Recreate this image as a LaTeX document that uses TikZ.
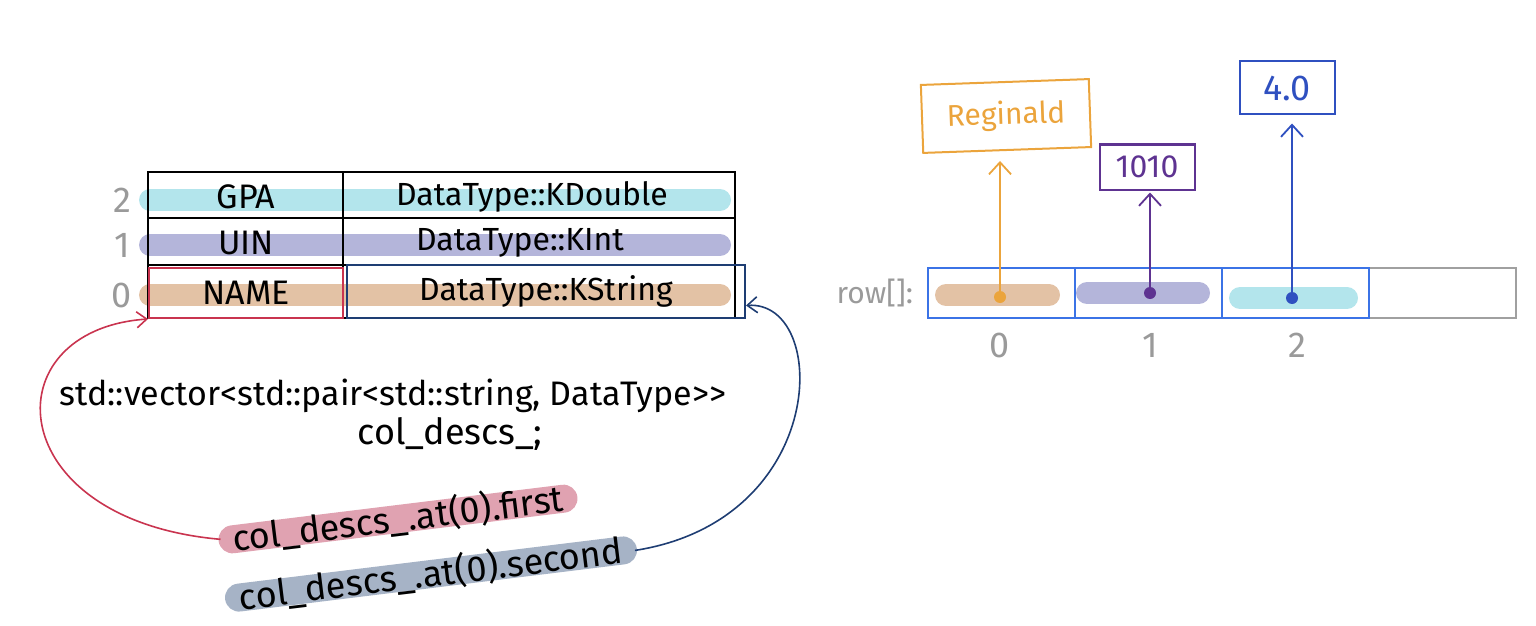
\documentclass[tikz,border=0pt]{standalone}
\usepackage{fontspec}
\setmainfont{Fira Sans}
\usetikzlibrary{arrows.meta,positioning,backgrounds}
\definecolor{hlcyan}{HTML}{B3E5EC}
\definecolor{hllav}{HTML}{B4B5DA}
\definecolor{hltan}{HTML}{E3C2A5}
\definecolor{hlpink}{HTML}{E0A2B1}
\definecolor{hlslate}{HTML}{A6B3C6}
\definecolor{namered}{HTML}{C9344F}
\definecolor{typeblue}{HTML}{1E3D73}
\definecolor{cellblue}{HTML}{3B73E6}
\definecolor{cellgray}{HTML}{A0A0A0}
\definecolor{idxgray}{HTML}{9A9A9A}
\definecolor{valorange}{HTML}{EBA43C}
\definecolor{valpurple}{HTML}{5E3391}
\definecolor{valblue}{HTML}{2F50C0}

\begin{document}
\begin{tikzpicture}[x=0.5pt,y=-0.5pt,
  tbl/.style={draw=black,line width=1pt},
  hl/.style={line width=11pt,line cap=round},
  bar/.style={line width=14pt,line cap=round},
  txt/.style={font=\fontsize{16}{18}\selectfont,inner sep=1pt},
  idx/.style={text=idxgray,font=\fontsize{18}{20}\selectfont},
  tag/.style={rotate=7,inner sep=0,font=\fontsize{18}{20}\selectfont},
  rcell/.style={draw=cellblue,line width=0.8pt,minimum width=73.5pt,minimum height=25pt,inner sep=0,outer sep=0},
  valbox/.style={draw,line width=1pt,inner sep=0},
  dot/.style={circle,inner sep=0,minimum size=6pt},
  ptr/.style={-{Straight Barb[length=6pt,width=11pt]},line width=0.9pt,shorten >=5pt},
  link/.style={-{Straight Barb[length=5pt,width=8pt]},line width=0.8pt}]

\useasboundingbox (0,0) rectangle (1536,626);

% rows of the description table
\draw[hl,hlcyan] (150,200) -- (720,200);
\draw[hl,hllav] (150,245) -- (720,245);
\draw[hl,hltan] (150,295) -- (720,295);
\draw[tbl] (148,172) rectangle (735,318);
\draw[tbl] (148,218) -- (735,218) (148,265) -- (735,265) (343,172) -- (343,318);

\node[idx] (i2) at (122,200) {2};
\node[idx] (i1) at (122,245) {1};
\node[idx] (i0) at (122,295) {0};

\node[txt,font=\fontsize{17}{19}\selectfont] (gpa) at (246,197) {GPA};
\node[txt] (gpatype) at (532,197) {DataType::KDouble};
\node[txt,font=\fontsize{17}{19}\selectfont] (uin) at (246,243) {UIN};
\node[txt] (uintype) at (520,243) {DataType::KInt};
\node[txt,font=\fontsize{17}{19}\selectfont,draw=namered,line width=1pt,minimum width=97pt,minimum height=25pt] (namecell) at (246,293) {NAME};
\node[txt,draw=typeblue,line width=1pt,minimum width=199pt,minimum height=26.5pt] (kstr) at (546,291.5) {DataType::KString};

% the member and its two accessors
\node[inner sep=0,font=\fontsize{17}{19}\selectfont] (decl) at (393,396) {std::vector<std::pair<std::string, DataType>{}>};
\node[inner sep=0,font=\fontsize{18}{20}\selectfont] (member) at (450,434) {col\_descs\_;};
\node[tag] (first) at (398,519) {col\_descs\_.at(0).first};
\node[tag] (second) at (431,574) {col\_descs\_.at(0).second};
\begin{scope}[on background layer]
  \draw[bar,hlpink] (first.west) -- (first.east);
  \draw[bar,hlslate] (second.west) -- (second.east);
\end{scope}

\draw[link,namered] ([xshift=-6pt]first.west) .. controls (0,520) and (-10,330) .. (namecell.south west);
\draw[link,typeblue] ([xshift=6pt]second.east) .. controls (830,520) and (830,300) .. ([yshift=-7pt]kstr.east);

% row array
\node[rcell,draw=cellgray] (r3) at (1442.5,293) {};
\node[rcell] (r0) at (1001.5,293) {};
\node[rcell,right=0pt of r0] (r1) {};
\node[rcell,right=0pt of r1] (r2) {};
\node[text=idxgray,font=\fontsize{15}{17}\selectfont,left=4pt of r0] (rowlbl) {row[]:};

\draw[hl,hltan] (946,295) -- (1049,295);
\draw[hl,hllav] (1087,293) -- (1199,293);
\draw[hl,hlcyan] (1240,298) -- (1347,298);

\node[idx] (n0) at (1000,345) {0};
\node[idx] (n1) at (1150,345) {1};
\node[idx] (n2) at (1297,345) {2};

% values pointed to by the row
\node[valbox,draw=valorange,text=valorange,rotate=2,minimum width=84pt,minimum height=34pt,font=\fontsize{15}{17}\selectfont] (v0) at (1006,116) {Reginald};
\node[valbox,draw=valpurple,text=valpurple,minimum width=47.5pt,minimum height=22.5pt,font=\fontsize{16}{18}\selectfont] (v1) at (1147,167) {1010};
\node[valbox,draw=valblue,text=valblue,minimum width=47.5pt,minimum height=26.5pt,font=\fontsize{18}{20}\selectfont] (v2) at (1287,88) {4.0};

\node[dot,fill=valorange] (d0) at (1000,297) {};
\node[dot,fill=valpurple] (d1) at (1150,293) {};
\node[dot,fill=valblue] (d2) at (1292,298) {};

\draw[ptr,valorange] (d0.center) -- (d0.center |- v0.south);
\draw[ptr,valpurple,shorten >=1pt] (d1.center) -- (d1.center |- v1.south);
\draw[ptr,valblue,shorten >=4pt] (d2.center) -- (d2.center |- v2.south);
\end{tikzpicture}
\end{document}
